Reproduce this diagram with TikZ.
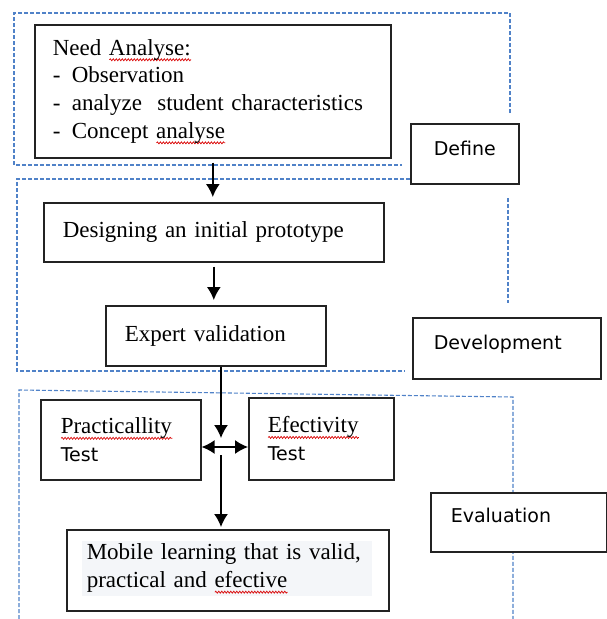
\documentclass[tikz,border=0pt]{standalone}
\usepackage{fontspec}
\setmainfont{Liberation Serif}
\newfontfamily\labelsans{DejaVu Sans}
\usetikzlibrary{arrows.meta,decorations.pathmorphing}
\newsavebox\rwbox
\newlength\rwlen
\newcommand\redwave[1]{\sbox\rwbox{#1}\setlength\rwlen{\wd\rwbox}%
  \rlap{\smash{\tikz[baseline=0pt]\draw[draw=red!85!black,line width=0.7pt,decorate,
    decoration={snake,amplitude=1pt,segment length=3pt}] (0pt,-4.5pt) -- (\rwlen,-4.5pt);}}\usebox\rwbox}
\definecolor{dashblue}{RGB}{80,130,200}
\definecolor{boxline}{RGB}{35,35,35}
\definecolor{textbg}{RGB}{244,246,249}
\begin{document}
\begin{tikzpicture}[x=1pt,y=-1pt,
  >={Latex[length=13pt,width=14pt]},
  box/.style={draw=boxline,line width=1.6pt,anchor=north west,align=left,inner ysep=0pt,
    font=\fontsize{23}{27.7}\selectfont},
  lab/.style={draw=boxline,fill=white,line width=1.6pt,anchor=north west,align=left,
    font=\labelsans\fontsize{19}{23}\selectfont,text height=14pt},
  grp/.style={draw=dashblue,line width=1.1pt,dash pattern=on 4pt off 2pt},
  arr/.style={draw=black,line width=1.5pt,->},
  darr/.style={draw=black,line width=1.5pt,<->},
]
\useasboundingbox (0,0) rectangle (607,619);

% dashed phase groups
\draw[grp] (510,113) -- (510,13) -- (14,13) -- (14,165) -- (402,165);
\draw[grp] (410,179) -- (17,179) -- (17,371) -- (405,371);
\draw[grp] (508,198) -- (508,303);
\draw[grp] (19,619) -- (19,390) -- (513,397) -- (513,619);

% process boxes
\node[box,minimum width=356pt,minimum height=133pt,text width=320pt,inner xsep=18pt] (need) at (34,24)
  {Need \redwave{Analyse:}\\
   \makebox[19pt][l]{-}Observation\\
   \makebox[19pt][l]{-}analyze\ \ student characteristics\\
   \makebox[19pt][l]{-}Concept \redwave{analyse}};
\node[box,minimum width=340pt,minimum height=59pt,text width=302pt,inner xsep=19pt] (design) at (43,202)
  {Designing an initial prototype};
\node[box,minimum width=220pt,minimum height=60pt,text width=182pt,inner xsep=19pt] (expert) at (105,305)
  {Expert validation};
\node[box,minimum width=160pt,minimum height=80pt,text width=120pt,inner xsep=20pt] (prac) at (40,399)
  {\redwave{Practicallity}\\{\labelsans\fontsize{19}{23}\selectfont Test}};
\node[box,minimum width=145pt,minimum height=82pt,text width=107pt,inner xsep=19pt] (efec) at (248,397)
  {\redwave{Efectivity}\\{\labelsans\fontsize{19}{23}\selectfont Test}};
\node[box,minimum width=322pt,minimum height=81pt] (mobile) at (66,529) {};
\node[box,draw=none,fill=textbg,minimum height=55pt,text width=280pt,inner xsep=5pt] (mtext) at (81,540)
  {Mobile learning that is valid,\\practical and \redwave{efective}};

% phase labels
\node[lab,minimum width=108pt,text width=62pt,inner xsep=23pt,inner ysep=18pt,text depth=10pt] (define) at (410,123) {Define};
\node[lab,minimum width=188pt,text width=146pt,inner xsep=21pt,inner ysep=18pt,text depth=11pt] (devel) at (412,317) {Development};
\node[lab,minimum width=176pt,text width=136pt,inner xsep=20pt,inner ysep=16pt,text depth=13pt] (eval) at (430,492) {Evaluation};

% connectors
\coordinate (j) at (221,447);
\draw[arr,shorten <=4pt,shorten >=5pt] (need.south) -- (need.south |- design.north);
\draw[arr,shorten <=4pt,shorten >=5pt] (design.south) -- (design.south |- expert.north);
\draw[arr,shorten >=9pt] (expert.south -| j) -- (j);
\draw[darr] (prac.east |- j) -- (efec.west |- j);
\draw[arr,shorten <=8pt,shorten >=2pt] (j) -- (j |- mobile.north);
\end{tikzpicture}
\end{document}
